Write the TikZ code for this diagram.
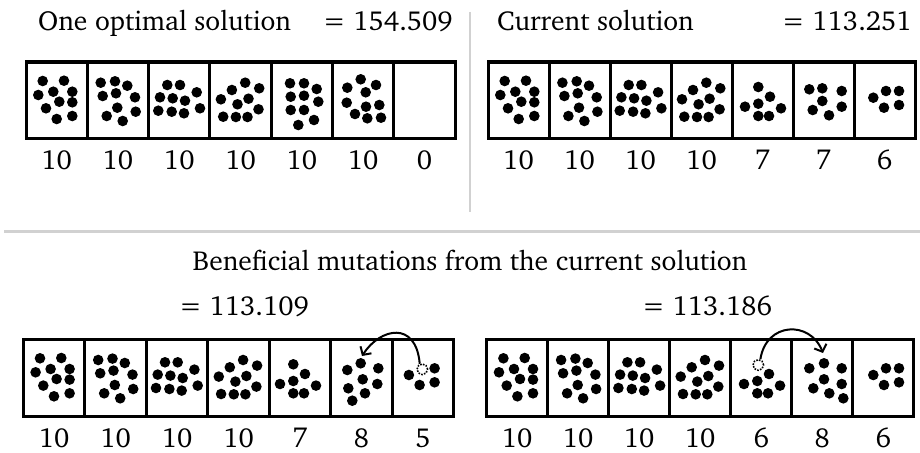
\documentclass[tikz,border=0pt]{standalone}
\usepackage[T1]{fontenc}
\usepackage{charter}
\usetikzlibrary{arrows.meta}

\tikzset{
  cell/.style={draw, line width=3pt, inner sep=0pt},
  ghost/.style={circle, draw, dash pattern=on 1.6pt off 1.3pt, line width=1.6pt, minimum size=10.6pt, inner sep=0pt},
  mutarrow/.style={-{Straight Barb[length=6pt,width=13pt]}, line width=2pt},
  divider/.style={draw=black!18, line width=3pt},
}

% dot layouts, measured from the top-left corner of a cell
\def\pA{16.7/19,38/18.7,12.3/33,27.3/29.7,46.3/29.7,33.3/39.7,46.3/40.3,20/46.3,30.7/57,46.3/54}
\def\pB{13.4/20.7,27.7/19.3,40/23.7,15.4/34,28.7/31.3,47.7/35.3,30/45.7,19.4/54,48.4/49.7,35.4/59}
\def\pC{18.7/23,31.4/23,11.4/35.3,24.1/36.3,48.1/30.3,36.4/38.7,9.7/48.7,23.1/49.7,35.4/51.3,51.4/46.3}
\def\pD{35.3/20.7,22/28,49.3/26.3,11/37.3,38.6/36.7,27.6/42.3,48.6/47.3,13.3/54.7,26/55,37.6/55}
\def\pE{17.7/21.3,31.7/21.3,44.4/27,18.4/34.7,31.7/33.7,46/39.7,18.4/48,31.7/48,26/63,41.7/58}
\def\pF{27.4/17.3,14/25.7,42.7/23,32.4/30.3,13.4/40.7,46/43,32.7/44.7,21.7/52,34/56.3,47.7/55.7}
\def\pG{24/25,35.7/34.7,10.7/44.7,24/41.7,46.7/46.3,24/54,34.7/54}
\def\pGm{35.7/34.7,10.7/44.7,24/41.7,46.7/46.3,24/54,34.7/54}
\def\pH{14.3/27.3,27.3/26.3,46.7/29,27.3/39,17.7/48,46.7/44.7,34/53.3}
\def\pI{30/24,16.6/30.7,47.6/29,32/40,17.6/49,46.6/44.7,34.3/54,21.6/61.4}
\def\pJ{15/29,29.7/24,47.4/29,29.7/40,19/49,47.4/44.7,35/54,49/59}
\def\pK{16.6/35.7,29.3/29,42.3/29,27.3/45.7,42.3/43}
\def\pKm{16.6/35.7,42.3/29,27.3/45.7,42.3/43}

\begin{document}
\begin{tikzpicture}[x=1pt, y=-1pt, font=\fontsize{27.5}{32}\selectfont,
    every node/.append style={inner sep=0pt}]
  \useasboundingbox (0,0) rectangle (920,452);
  \draw[divider, line width=2pt] (470,12) -- (470,212);
  \draw[divider] (4,231) -- (920,231);

  \node[anchor=base west] (opt) at (38,31) {One optimal solution};
  \node[anchor=base east] (optval) at (453,31) {= 154.509};
  \node[anchor=base west] (cur) at (497,31) {Current solution};
  \node[anchor=base east] (curval) at (912,31) {= 113.251};
  \node[anchor=base] (benef) at (470,270) {Beneficial mutations from the current solution};
  \node[anchor=base] (mutA) at (244,315) {= 113.109};
  \node[anchor=base] (mutB) at (707,315) {= 113.186};

  % four rows of seven cells
  \foreach \n [count=\i] in {10,10,10,10,10,10,0} {
    \node[cell, minimum width=61.3pt, minimum height=76pt] (ta\i) at (26+\i*61.3-30.65,100) {};
    \node (tan\i) at (26+\i*61.3-30.65,160) {\n};
  }
  \foreach \n [count=\i] in {10,10,10,10,7,7,6} {
    \node[cell, minimum width=61pt, minimum height=76pt] (tb\i) at (488+\i*61-30.5,100) {};
    \node (tbn\i) at (488+\i*61-30.5,160) {\n};
  }
  \foreach \n [count=\i] in {10,10,10,10,7,8,5} {
    \node[cell, minimum width=61.5pt, minimum height=77.4pt] (ba\i) at (23.3+\i*61.5-30.75,378) {};
    \node (ban\i) at (23.3+\i*61.5-30.75,438) {\n};
  }
  \foreach \n [count=\i] in {10,10,10,10,6,8,6} {
    \node[cell, minimum width=61pt, minimum height=77.4pt] (bb\i) at (486.7+\i*61-30.5,378) {};
    \node (bbn\i) at (486.7+\i*61-30.5,438) {\n};
  }

  % the dots
  \def\dotr{5.3pt}
  \foreach \ox/\oy/\w in {26/62/61.3,488/62/61,23.3/339.3/61.5,486.7/339.3/61} {
    \foreach \x/\y in \pA {\fill (\ox+\x,\oy+\y) circle (\dotr);}
    \foreach \x/\y in \pB {\fill (\ox+\w+\x,\oy+\y) circle (\dotr);}
    \foreach \x/\y in \pC {\fill (\ox+2*\w+\x,\oy+\y) circle (\dotr);}
    \foreach \x/\y in \pD {\fill (\ox+3*\w+\x,\oy+\y) circle (\dotr);}
  }
  \foreach \x/\y in \pE {\fill (272.3+\x,62+\y) circle (\dotr);}
  \foreach \x/\y in \pF {\fill (333.3+\x,62+\y) circle (\dotr);}
  \foreach \x/\y in \pG {\fill (734.3+\x,62+\y) circle (\dotr);}
  \foreach \x/\y in \pH {\fill (795+\x,62+\y) circle (\dotr);}
  \foreach \x/\y in \pK {\fill (856.7+\x,62+\y) circle (\dotr);}
  \foreach \x/\y in \pG {\fill (269.3+\x,339.3+\y) circle (\dotr);}
  \foreach \x/\y in \pI {\fill (330.7+\x,339.3+\y) circle (\dotr);}
  \foreach \x/\y in \pKm {\fill (392.3+\x,339.3+\y) circle (\dotr);}
  \foreach \x/\y in \pGm {\fill (733.3+\x,339.3+\y) circle (\dotr);}
  \foreach \x/\y in \pJ {\fill (794.3+\x,339.3+\y) circle (\dotr);}
  \foreach \x/\y in \pK {\fill (856.7+\x,339.3+\y) circle (\dotr);}

  % moved dots
  \node[ghost] (g1) at (422.3,369.3) {};
  \node[ghost] (g2) at (758.3,365) {};
  \coordinate (t1) at (362,356);
  \coordinate (t2) at (823,353);
  \draw[mutarrow] (g1.115) .. controls (416,320) and (380,328) .. (t1);
  \draw[mutarrow] (g2.70) .. controls (766,322) and (810,320) .. (t2);
\end{tikzpicture}
\end{document}
